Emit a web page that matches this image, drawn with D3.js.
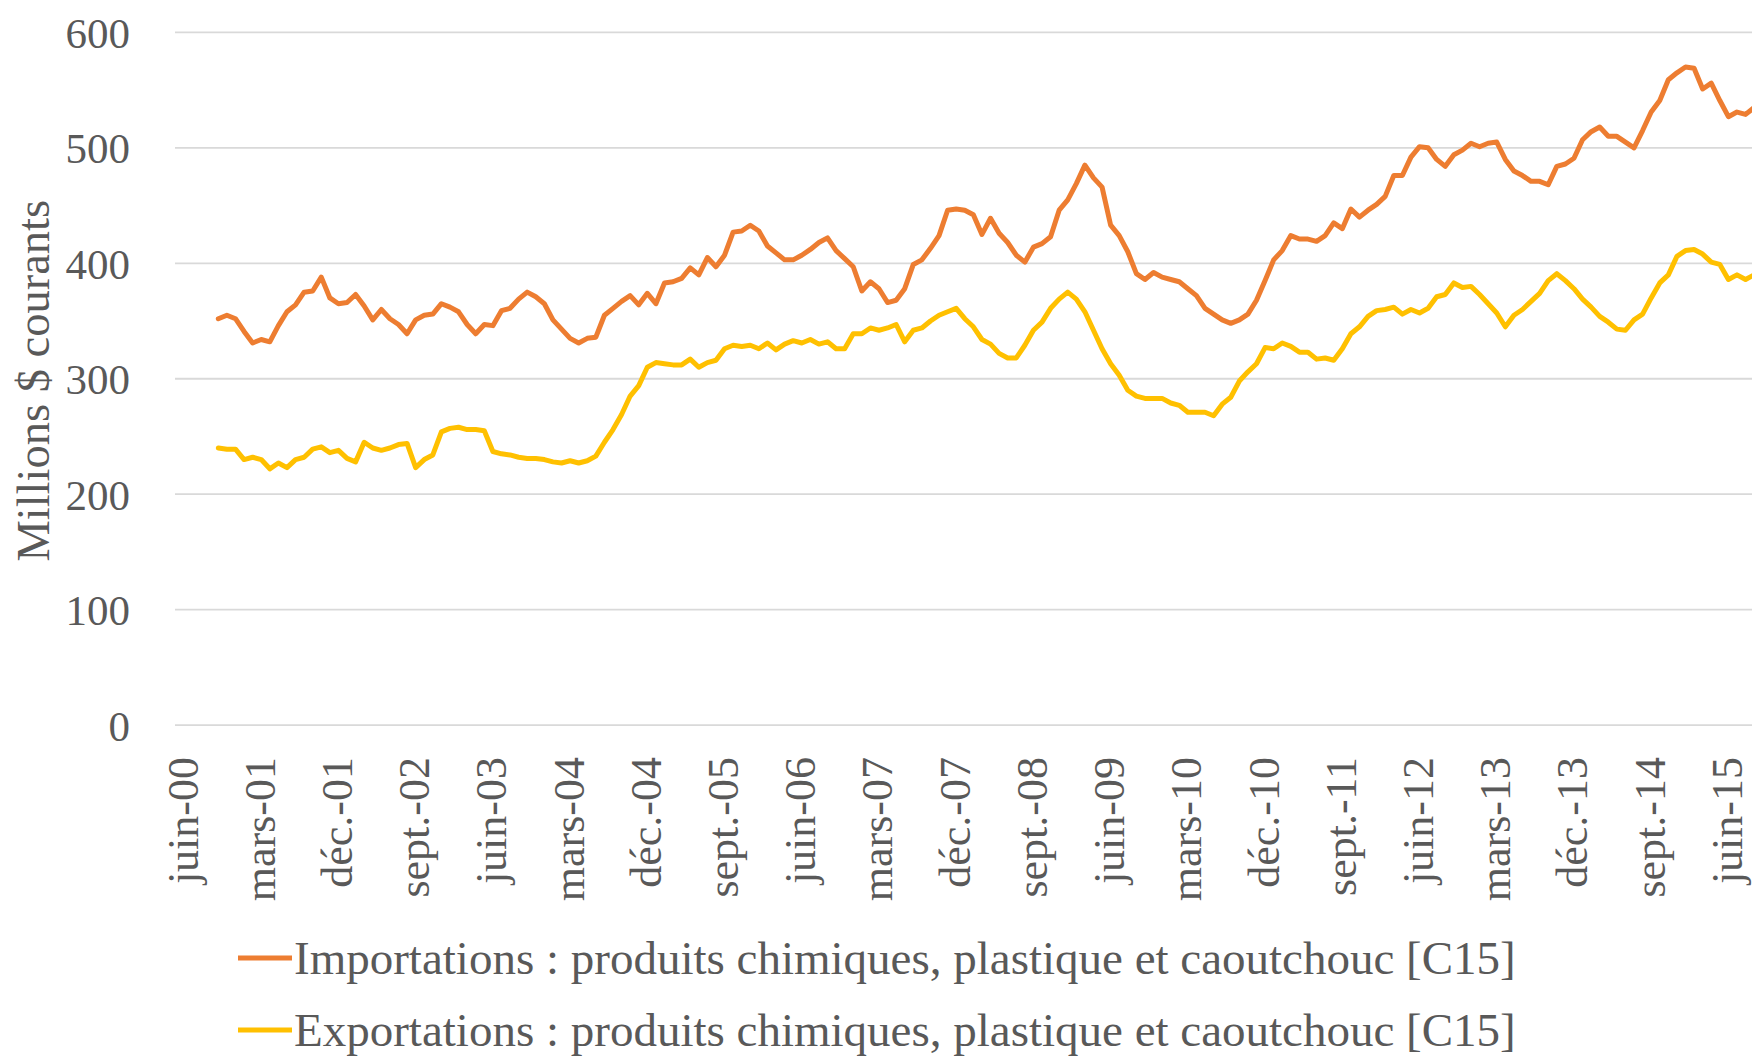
<!DOCTYPE html>
<html>
<head>
<meta charset="utf-8">
<script src="https://cdn.jsdelivr.net/npm/d3@7"></script>
<style>
  html, body { margin: 0; padding: 0; background: #ffffff; }
  svg { display: block; }
  text { font-family: "Liberation Serif", "Times New Roman", serif; fill: #595959; }
</style>
</head>
<body>
<script>
// ---------------- DATA ----------------
// Monthly categories start at juin-00 (index 0); the series begin at index 4 (oct.-00)
const axisStart = new Date(2000, 5, 1);
const seriesStartIndex = 4;

const tickLabels = ["juin-00","mars-01","déc.-01","sept.-02","juin-03","mars-04","déc.-04",
  "sept.-05","juin-06","mars-07","déc.-07","sept.-08","juin-09","mars-10","déc.-10",
  "sept.-11","juin-12","mars-13","déc.-13","sept.-14","juin-15"];
const tickEvery = 9;

const yTicks = [0, 100, 200, 300, 400, 500, 600];

const seriesNames = [
  "Importations : produits chimiques, plastique et caoutchouc [C15]",
  "Exportations : produits chimiques, plastique et caoutchouc [C15]"
];

const importations = [
  352,355,352,341,331,334,332,346,358,364,375,376,388,370,365,366,373,363,351,360,
  352,347,339,351,355,356,365,362,358,347,339,347,346,359,361,369,375,371,365,351,
  343,335,331,335,336,355,361,367,372,364,374,365,383,384,387,396,390,405,397,407,
  427,428,433,428,415,409,403,403,407,412,418,422,411,404,397,376,384,378,366,368,
  378,399,403,413,424,446,447,446,442,425,439,426,418,407,401,414,417,423,446,455,
  469,485,474,466,433,424,410,391,386,392,388,386,384,378,372,361,356,351,348,351,
  356,368,385,403,411,424,421,421,419,424,435,430,447,440,446,451,458,476,476,492,
  501,500,490,484,494,498,504,501,504,505,490,480,476,471,471,468,484,486,491,507,
  514,518,510,510,505,500,515,531,541,559,565,570,569,551,556,541,527,531,529,535
];

const exportations = [
  240,239,239,230,232,230,222,227,223,230,232,239,241,236,238,231,228,245,240,238,
  240,243,244,223,230,234,254,257,258,256,256,255,237,235,234,232,231,231,230,228,
  227,229,227,229,233,245,256,269,285,294,310,314,313,312,312,317,310,314,316,326,
  329,328,329,326,331,325,330,333,331,334,330,332,326,326,339,339,344,342,344,347,
  332,342,344,350,355,358,361,352,345,334,330,322,318,318,329,342,349,361,369,375,
  369,358,342,326,313,303,290,285,283,283,283,279,277,271,271,271,268,278,284,298,
  306,313,327,326,331,328,323,323,317,318,316,326,339,345,354,359,360,362,356,360,
  357,361,371,373,383,379,380,373,365,357,345,355,360,367,374,385,391,385,378,369,
  362,354,349,343,342,351,356,370,383,390,406,411,412,408,401,399,386,390,386,390
];

const colors = ["#ED7D31", "#FFC000"];

// ---------------- CHART ----------------
const W = 1752, H = 1056;
const plotLeft = 175, plotRight = 1752, plotTop = 32.4, plotBottom = 725.1;

const svg = d3.select("body").append("svg").attr("width", W).attr("height", H);

const nMonths = seriesStartIndex + importations.length;
const months = d3.timeMonth.range(axisStart, d3.timeMonth.offset(axisStart, nMonths));

const x = d3.scaleLinear().domain([0, 180]).range([184, 184 + 8.58 * 180]);
const y = d3.scaleLinear().domain([0, 600]).range([plotBottom, plotTop]);

// gridlines
svg.append("g").selectAll("line").data(yTicks).join("line")
  .attr("x1", plotLeft).attr("x2", plotRight)
  .attr("y1", d => y(d)).attr("y2", d => y(d))
  .attr("stroke", "#d9d9d9").attr("stroke-width", 1.8);

// y axis labels
const yAxis = d3.axisLeft(y).tickValues(yTicks).tickSize(0).tickPadding(0);
const gy = svg.append("g").attr("transform", "translate(130,0)").call(yAxis);
gy.select(".domain").remove();
gy.selectAll("text").attr("font-size", 43).attr("font-family", "Liberation Serif")
  .attr("fill", "#595959").attr("dy", "0.35em");

// y title
svg.append("text")
  .attr("transform", `translate(33,${(plotTop + plotBottom) / 2 + 2}) rotate(-90)`)
  .attr("text-anchor", "middle").attr("dominant-baseline", "central")
  .attr("font-size", 46.5).text("Millions $ courants");

// x tick labels
const gx = svg.append("g");
gx.selectAll("text").data(tickLabels).join("text")
  .attr("transform", (d, i) => `translate(${x(i * tickEvery) - 1},757) rotate(-90)`)
  .attr("text-anchor", "end").attr("dominant-baseline", "central")
  .attr("font-size", 44).text(d => d);

// lines
svg.append("clipPath").attr("id", "clip").append("rect")
  .attr("x", plotLeft).attr("y", 0).attr("width", plotRight - plotLeft).attr("height", H);

const line = d3.line()
  .x((d, i) => x(seriesStartIndex + i))
  .y(d => y(d));

const allSeries = [importations, exportations];
// draw exports first so imports sit on top
[1, 0].forEach(s => {
  svg.append("path")
    .datum(allSeries[s])
    .attr("clip-path", "url(#clip)")
    .attr("fill", "none")
    .attr("stroke", colors[s])
    .attr("stroke-width", 5)
    .attr("stroke-linejoin", "round")
    .attr("stroke-linecap", "round")
    .attr("d", line);
});

// legend
const legendY = [958, 1030];
const lg = svg.append("g");
seriesNames.forEach((name, s) => {
  lg.append("line").attr("x1", 238).attr("x2", 292)
    .attr("y1", legendY[s]).attr("y2", legendY[s])
    .attr("stroke", colors[s]).attr("stroke-width", 5);
  lg.append("text").attr("x", 294).attr("y", legendY[s])
    .attr("dominant-baseline", "central")
    .attr("font-size", 47).text(name);
});
</script>
</body>
</html>
